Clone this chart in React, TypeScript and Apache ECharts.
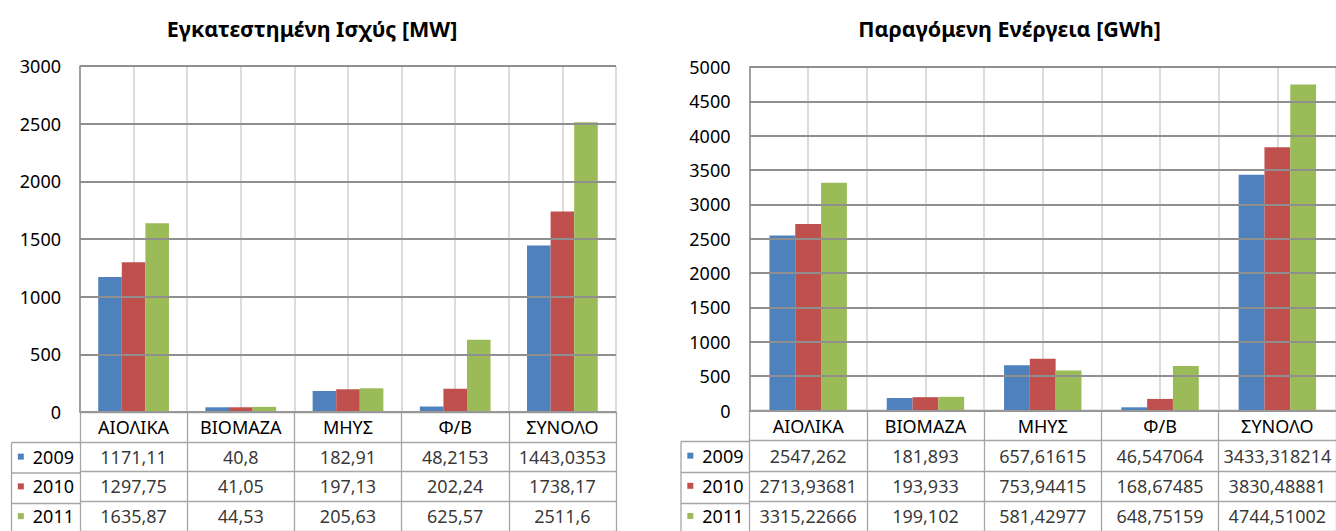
import React, { useEffect, useRef } from 'react';
import * as echarts from 'echarts';

const categories = ['ΑΙΟΛΙΚΑ', 'ΒΙΟΜΑΖΑ', 'ΜΗΥΣ', 'Φ/Β', 'ΣΥΝΟΛΟ'];
const years = ['2009', '2010', '2011'];

const powerTitle = 'Εγκατεστημένη Ισχύς [MW]';
const power2009 = [1171.11, 40.8, 182.91, 48.2153, 1443.0353];
const power2010 = [1297.75, 41.05, 197.13, 202.24, 1738.17];
const power2011 = [1635.87, 44.53, 205.63, 625.57, 2511.6];
const powerMax = 3000;
const powerInterval = 500;

const energyTitle = 'Παραγόμενη Ενέργεια [GWh]';
const energy2009 = [2547.262, 181.893, 657.61615, 46.547064, 3433.318214];
const energy2010 = [2713.93681, 193.933, 753.94415, 168.67485, 3830.48881];
const energy2011 = [3315.22666, 199.102, 581.42977, 648.75159, 4744.51002];
const energyMax = 5000;
const energyInterval = 500;

const COLORS = ['#4F81BD', '#C0504D', '#9BBB59'];
const FONT = 'Noto Sans';
const FS = 18;

const fmt = (v: number) => String(v).replace('.', ',');

type Panel = {
  title: string;
  series: number[][];
  max: number;
  interval: number;
  layout: {
    left: number;
    top: number;
    width: number;
    height: number;
    tableHeight: number;
    headerLeft: number;
    titleX: number;
  };
};

const panels: Panel[] = [
  {
    title: powerTitle,
    series: [power2009, power2010, power2011],
    max: powerMax,
    interval: powerInterval,
    layout: { left: 80, top: 66, width: 536, height: 346, tableHeight: 122, headerLeft: 11.5, titleX: 307 },
  },
  {
    title: energyTitle,
    series: [energy2009, energy2010, energy2011],
    max: energyMax,
    interval: energyInterval,
    layout: { left: 749.5, top: 67, width: 592, height: 343.5, tableHeight: 124, headerLeft: 681, titleX: 1004.5 },
  },
];

function buildOption() {
  const grid: any[] = [];
  const xAxis: any[] = [];
  const yAxis: any[] = [];
  const series: any[] = [];
  const title: any[] = [];
  const graphic: any[] = [];

  const rowNames = ['', ...years];
  const rich: any = {
    t: { fontSize: FS, fontFamily: FONT, color: '#000' },
    gap: { width: 9 },
  };
  COLORS.forEach((c, i) => {
    rich['sq' + (i + 1)] = { width: 6, height: 6, backgroundColor: c, verticalAlign: 'middle' };
  });

  panels.forEach((p, pi) => {
    const L = p.layout;
    const g0 = pi * 2;
    const g1 = pi * 2 + 1;
    const xb = pi * 3;
    const yb = pi * 2;

    title.push({
      text: p.title,
      left: L.titleX,
      top: 12,
      textAlign: 'center',
      textStyle: { fontFamily: FONT, fontSize: 21.5, fontWeight: 'bold', color: '#000' },
    });

    grid.push({ left: L.left, top: L.top, width: L.width, height: L.height });
    grid.push({ left: L.left, top: L.top + L.height, width: L.width, height: L.tableHeight });

    // main category axis with category names
    xAxis.push({
      gridIndex: g0,
      type: 'category',
      data: categories,
      axisLine: { show: true, lineStyle: { color: '#9a9a9a', width: 1.5 } },
      axisTick: { show: false },
      axisLabel: { margin: 6, fontSize: FS, fontFamily: FONT, color: '#000', interval: 0 },
      splitLine: { show: false },
      z: 5,
    });
    // helper axis for vertical gridlines at half categories
    xAxis.push({
      gridIndex: g0,
      type: 'category',
      data: Array.from({ length: categories.length * 2 }, (_, i) => 'g' + i),
      axisLine: { show: false },
      axisTick: { show: false },
      axisLabel: { show: false },
      splitLine: { show: true, interval: 0, lineStyle: { color: '#d0d0d0', width: 1.5 } },
    });
    // table column axis
    xAxis.push({
      gridIndex: g1,
      type: 'category',
      data: categories,
      axisLine: { show: false },
      axisTick: { show: false },
      axisLabel: { show: false },
      splitLine: { show: true, interval: 0, lineStyle: { color: '#a6a6a6', width: 1.3 } },
    });

    yAxis.push({
      gridIndex: g0,
      type: 'value',
      min: 0,
      max: p.max,
      interval: p.interval,
      axisLine: { show: true, lineStyle: { color: '#8c8c8c', width: 1.5 } },
      axisTick: { show: false },
      axisLabel: {
        margin: 19,
        fontSize: FS,
        fontFamily: FONT,
        color: '#000',
        formatter: (v: number) => String(v),
      },
      splitLine: { show: true, lineStyle: { color: '#8f8f8f', width: 2 } },
      z: 4,
    });
    yAxis.push({
      gridIndex: g1,
      type: 'category',
      inverse: true,
      data: rowNames,
      axisLine: { show: false },
      axisTick: { show: false },
      axisLabel: {
        margin: 6,
        interval: 0,
        rich,
        formatter: (v: string, idx: number) => (idx === 0 ? '' : `{sq${idx}| }{gap| }{t|${v}}`),
      },
      splitLine: { show: true, interval: 0, lineStyle: { color: '#a6a6a6', width: 1.3 } },
    });

    p.series.forEach((vals, si) => {
      series.push({
        type: 'bar',
        name: years[si],
        xAxisIndex: xb,
        yAxisIndex: yb,
        data: vals,
        barGap: '0%',
        barCategoryGap: '34%',
        itemStyle: { color: COLORS[si] },
        z: 3,
      });
    });

    const cells: any[] = [];
    p.series.forEach((vals, si) => {
      vals.forEach((v, ci) => cells.push({ value: [ci, si + 1], text: fmt(v) }));
    });
    series.push({
      type: 'scatter',
      xAxisIndex: xb + 2,
      yAxisIndex: yb + 1,
      data: cells,
      symbolSize: 2,
      itemStyle: { color: 'rgba(0,0,0,0)' },
      silent: true,
      z: 6,
      label: {
        show: true,
        position: 'inside',
        formatter: (prm: any) => prm.data.text,
        fontSize: FS,
        fontFamily: FONT,
        color: '#000',
      },
    });

    // header column borders of the data table
    const rowH = L.tableHeight / 4;
    const t0 = L.top + L.height;
    for (let r = 1; r <= 3; r++) {
      graphic.push({
        type: 'line',
        silent: true,
        shape: { x1: L.headerLeft, y1: t0 + rowH * r, x2: L.left, y2: t0 + rowH * r },
        style: { stroke: '#a6a6a6', lineWidth: 1.3 },
      });
    }
    graphic.push({
      type: 'line',
      silent: true,
      shape: { x1: L.headerLeft, y1: t0 + rowH, x2: L.headerLeft, y2: 540 },
      style: { stroke: '#a6a6a6', lineWidth: 1.3 },
    });
  });

  return {
    animation: false,
    backgroundColor: '#fff',
    textStyle: { fontFamily: FONT },
    title,
    grid,
    xAxis,
    yAxis,
    series,
    graphic,
  };
}

export default function App() {
  const ref = useRef<HTMLDivElement>(null);
  useEffect(() => {
    document.body.style.margin = '0';
    if (!ref.current) return;
    const chart = echarts.init(ref.current, undefined, { renderer: 'svg' });
    chart.setOption(buildOption() as any);
    return () => chart.dispose();
  }, []);
  return <div ref={ref} style={{ width: 1336, height: 531 }} />;
}
